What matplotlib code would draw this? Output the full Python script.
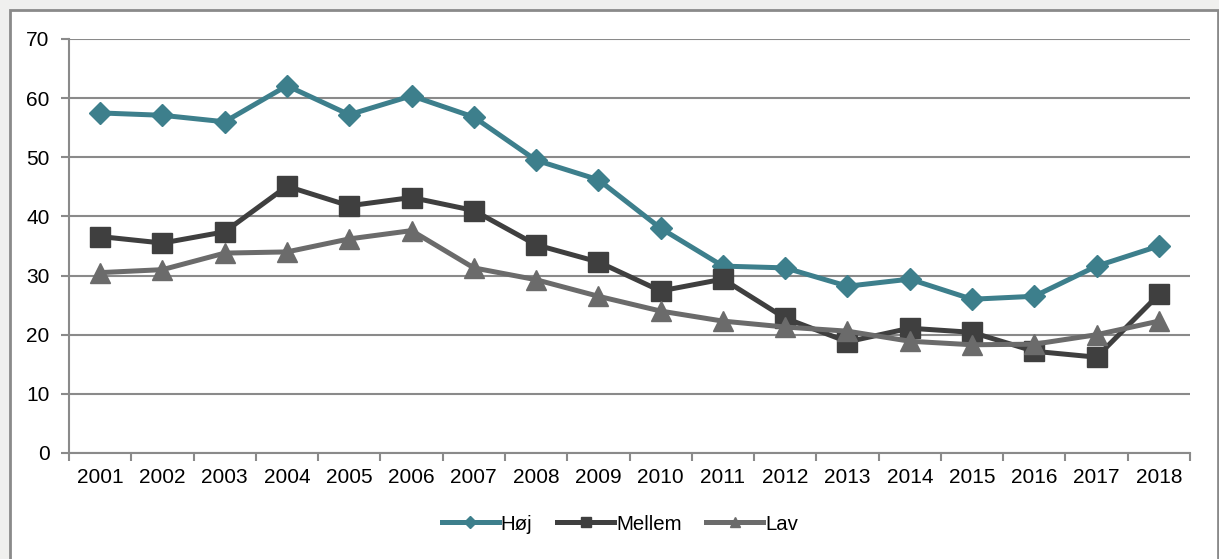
import matplotlib
matplotlib.use("Agg")
import matplotlib.pyplot as plt
from matplotlib.patches import Rectangle

years = [str(y) for y in range(2001, 2019)]
hoj = [57.5, 57.1, 56.0, 62.1, 57.2, 60.4, 56.8, 49.5, 46.2, 38.0, 31.6, 31.3, 28.2, 29.4, 26.0, 26.5, 31.6, 35.0]
mellem = [36.6, 35.5, 37.4, 45.1, 41.8, 43.2, 41.0, 35.2, 32.3, 27.4, 29.4, 22.8, 18.8, 21.1, 20.4, 17.2, 16.2, 26.8]
lav = [30.5, 31.0, 33.8, 34.0, 36.2, 37.6, 31.3, 29.3, 26.5, 24.0, 22.3, 21.3, 20.6, 18.9, 18.3, 18.4, 20.0, 22.3]

plt.rcParams['font.family'] = ['Liberation Sans', 'DejaVu Sans']

fig = plt.figure(figsize=(12.19, 5.59), dpi=100, facecolor='#f0f0ee')
fig.patches.append(Rectangle((10/1219, -0.1), (1218-10)/1219, 1.1 - 10/559,
                             transform=fig.transFigure, facecolor='white',
                             edgecolor='#8a8a8a', linewidth=2, zorder=-5))

ax = fig.add_axes([69/1219, 1-453/559, (1190-69)/1219, (453-39)/559], zorder=2)
ax.set_facecolor('none')
x = list(range(len(years)))
ax.plot(x, hoj, color='#3d7f8c', lw=3.6, marker='D', ms=11, label='Høj', zorder=3)
ax.plot(x, mellem, color='#3f3f3f', lw=3.6, marker='s', ms=14, label='Mellem', zorder=3)
ax.plot(x, lav, color='#6b6b6b', lw=3.6, marker='^', ms=14, label='Lav', zorder=3)

ax.set_xlim(-0.5, len(years)-0.5)
ax.set_ylim(0, 70)
ax.set_yticks(range(0, 71, 10))
ax.set_xticks(x)
ax.set_xticklabels(years)
ax.set_xticks([i - 0.5 for i in range(len(years)+1)], minor=True)
ax.tick_params(axis='x', which='major', length=0, labelsize=15, pad=11)
ax.tick_params(axis='x', which='minor', length=6, width=1.5, color='#8a8a8a')
ax.tick_params(axis='y', length=6, width=1.5, color='#8a8a8a', labelsize=15, pad=8)
ax.grid(axis='y', color='#8a8a8a', lw=1.5)
ax.set_axisbelow(True)
for s in ['top', 'right']:
    ax.spines[s].set_visible(False)
for s in ['left', 'bottom']:
    ax.spines[s].set_color('#8a8a8a')
    ax.spines[s].set_linewidth(1.5)

leg = fig.legend(loc='center', bbox_to_anchor=(620/1219, 1-524/559), ncol=3,
                 frameon=False, fontsize=14.7, handlelength=2.8, columnspacing=1.2,
                 handletextpad=0.1, markerscale=0.55)
fig.savefig('out.png', dpi=100, facecolor=fig.get_facecolor())
